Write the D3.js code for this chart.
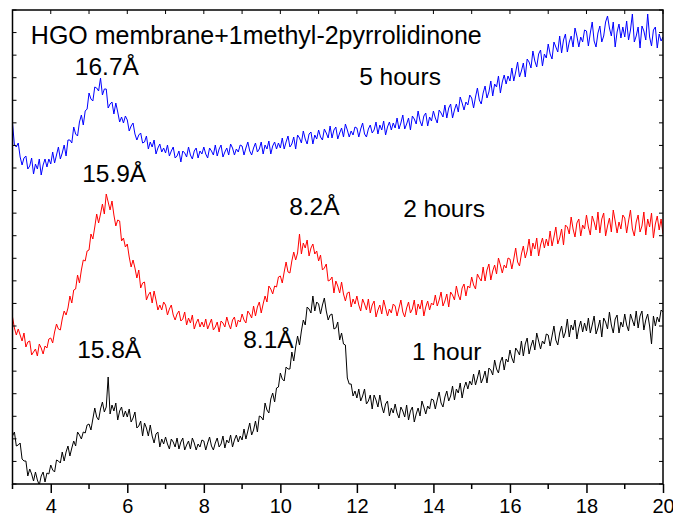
<!DOCTYPE html>
<html>
<head>
<meta charset="utf-8">
<script src="https://cdn.jsdelivr.net/npm/d3@7"></script>
<style>
  body { margin: 0; background: #fff; }
  svg { display: block; font-family: "Liberation Sans", Arial, sans-serif; }
</style>
</head>
<body>
<svg width="673" height="516"></svg>
<script>
// 2-theta grid: 3.00 .. 20.00 deg, step 0.05
const thetaStart = 3;
const thetaStep = 0.05;

// intensity (a.u., offset stacked), one row per degree
const fiveHours = [
  361, 339, 337, 341, 327, 319, 326, 328, 315, 318, 326, 310, 320, 315, 325, 309, 319, 325, 317, 325,
  320, 332, 321, 329, 337, 325, 331, 339, 328, 344, 344, 341, 357, 350, 348, 362, 369, 359, 373, 375,
  391, 385, 383, 397, 396, 393, 406, 389, 395, 395, 376, 380, 382, 370, 381, 372, 362, 367, 361, 368,
  364, 353, 358, 361, 350, 344, 349, 351, 341, 342, 348, 335, 342, 337, 344, 330, 336, 340, 332, 336,
  331, 339, 328, 333, 337, 326, 328, 333, 322, 333, 331, 327, 337, 329, 325, 333, 336, 326, 333, 330,
  337, 330, 326, 336, 333, 329, 339, 328, 335, 339, 327, 332, 336, 329, 340, 336, 329, 335, 332, 339,
  338, 329, 336, 342, 333, 329, 336, 341, 332, 335, 342, 330, 339, 335, 343, 330, 338, 342, 335, 341,
  336, 346, 335, 342, 348, 337, 340, 347, 335, 349, 346, 341, 353, 345, 340, 350, 352, 340, 349, 345,
  354, 347, 344, 355, 351, 346, 358, 346, 354, 357, 345, 351, 356, 347, 360, 354, 347, 353, 349, 357,
  356, 347, 355, 361, 350, 347, 355, 359, 351, 354, 362, 350, 359, 354, 363, 349, 357, 362, 354, 361,
  356, 366, 355, 361, 369, 355, 360, 366, 354, 368, 365, 360, 373, 363, 358, 368, 371, 358, 367, 363,
  373, 366, 361, 374, 371, 367, 379, 366, 376, 380, 366, 374, 380, 372, 387, 381, 374, 382, 379, 389,
  386, 376, 387, 396, 384, 380, 391, 398, 386, 392, 403, 388, 400, 397, 408, 391, 402, 409, 400, 408,
  403, 416, 403, 412, 422, 407, 413, 421, 407, 425, 422, 416, 433, 423, 417, 430, 434, 418, 430, 426,
  440, 430, 425, 442, 437, 432, 448, 431, 444, 450, 432, 442, 448, 437, 456, 448, 437, 447, 442, 454,
  453, 438, 451, 462, 443, 437, 451, 458, 442, 448, 462, 468, 456, 448, 462, 437, 452, 460, 446, 457,
  447, 463, 444, 454, 470, 442, 448, 457, 436, 458, 453, 444, 470, 447, 438, 454, 457, 436, 450, 443,
  447
];

const twoHours = [
  167, 156, 149, 155, 149, 143, 151, 137, 142, 143, 129, 132, 135, 128, 140, 136, 130, 138, 136, 145,
  146, 141, 152, 160, 155, 154, 165, 173, 169, 176, 188, 181, 194, 195, 209, 201, 214, 224, 223, 233,
  234, 250, 245, 257, 270, 261, 270, 280, 270, 290, 282, 274, 283, 269, 258, 264, 263, 243, 246, 237,
  240, 227, 217, 224, 216, 206, 214, 196, 201, 202, 184, 189, 192, 181, 193, 184, 174, 179, 174, 182,
  179, 169, 175, 179, 169, 164, 170, 173, 163, 165, 172, 159, 166, 161, 169, 155, 161, 165, 157, 162,
  157, 165, 155, 160, 165, 154, 157, 162, 152, 163, 161, 157, 167, 160, 155, 164, 167, 157, 164, 162,
  170, 164, 161, 173, 170, 166, 178, 168, 177, 182, 171, 180, 188, 182, 198, 195, 190, 198, 197, 207,
  208, 201, 212, 222, 212, 211, 223, 232, 224, 231, 250, 230, 241, 236, 244, 228, 236, 240, 230, 233,
  223, 229, 214, 216, 220, 203, 204, 207, 191, 203, 198, 191, 202, 190, 183, 191, 192, 177, 185, 180,
  188, 179, 173, 185, 180, 174, 185, 171, 179, 183, 167, 174, 179, 170, 184, 176, 168, 175, 171, 180,
  178, 168, 176, 184, 172, 167, 176, 182, 171, 175, 184, 169, 180, 175, 184, 168, 177, 183, 174, 181,
  179, 189, 178, 184, 192, 178, 183, 190, 177, 192, 189, 184, 198, 189, 184, 196, 200, 188, 198, 196,
  207, 199, 195, 210, 206, 203, 217, 203, 214, 220, 204, 213, 219, 210, 226, 219, 211, 219, 216, 226,
  225, 215, 225, 236, 222, 218, 230, 238, 226, 233, 245, 228, 241, 235, 246, 228, 239, 246, 236, 245,
  238, 253, 238, 247, 257, 240, 246, 255, 239, 259, 257, 250, 267, 255, 247, 261, 265, 248, 259, 255,
  269, 257, 249, 268, 262, 254, 272, 251, 265, 271, 248, 258, 266, 252, 274, 263, 251, 262, 255, 269,
  266, 251, 263, 274, 255, 248, 262, 269, 252, 258, 272, 249, 265, 257, 271, 246, 260, 268, 254, 265,
  250
];

const oneHour = [
  48, 52, 38, 39, 41, 25, 23, 23, 8, 15, 10, 3, 12, 4, -1, 8, 12, 2, 11, 10,
  19, 14, 12, 24, 23, 21, 32, 23, 32, 38, 28, 36, 43, 38, 52, 49, 45, 52, 51, 59,
  60, 54, 65, 76, 67, 64, 75, 82, 72, 77, 107, 70, 79, 73, 81, 64, 73, 77, 67, 73,
  67, 75, 62, 66, 72, 56, 58, 63, 48, 61, 56, 48, 59, 48, 41, 50, 52, 37, 45, 40,
  47, 40, 35, 45, 42, 37, 46, 35, 42, 46, 34, 39, 43, 35, 46, 41, 34, 40, 37, 44,
  43, 34, 41, 47, 38, 34, 41, 46, 37, 40, 48, 36, 44, 41, 49, 37, 44, 49, 42, 48,
  44, 55, 45, 53, 61, 49, 54, 63, 52, 68, 67, 64, 81, 74, 71, 85, 91, 82, 96, 97,
  111, 105, 103, 117, 115, 115, 132, 123, 137, 148, 139, 153, 164, 159, 177, 175, 171, 188, 173, 182,
  180, 170, 179, 186, 173, 164, 169, 170, 155, 156, 162, 144, 151, 140, 139, 106, 100, 100, 88, 93,
  86, 95, 83, 88, 95, 80, 83, 89, 75, 89, 84, 77, 89, 78, 71, 80, 83, 68, 76, 71,
  80, 71, 66, 77, 73, 67, 79, 64, 73, 77, 62, 70, 76, 68, 83, 77, 70, 78, 75, 85,
  84, 75, 84, 92, 81, 77, 87, 93, 83, 88, 98, 84, 95, 91, 101, 86, 96, 102, 95, 103,
  99, 110, 99, 106, 114, 101, 106, 113, 101, 116, 114, 109, 124, 115, 111, 122, 127, 114, 125, 122,
  134, 126, 121, 136, 133, 129, 143, 128, 140, 146, 130, 138, 144, 134, 151, 143, 135, 143, 140, 150,
  149, 138, 148, 158, 144, 139, 151, 158, 146, 152, 165, 147, 159, 154, 164, 145, 156, 163, 152, 161,
  153, 166, 151, 159, 168, 150, 156, 164, 147, 166, 162, 155, 172, 159, 151, 165, 169, 151, 162, 157,
  170, 159, 153, 170, 164, 158, 173, 156, 168, 173, 154, 164, 170, 158, 140, 168, 158, 167, 162, 174,
  172
];

const xTicks = [4, 6, 8, 10, 12, 14, 16, 18, 20];
const seriesNames = ['1 hour', '2 hours', '5 hours'];
const peakLabels = ['15.8Å', '8.1Å', '15.9Å', '8.2Å', '16.7Å'];
const title = 'HGO membrane+1methyl-2pyrrolidinone';

const svg = d3.select('svg');
const frame = { left: 12.5, right: 663, top: 10, bottom: 484 };

const x = d3.scaleLinear().domain([3, 20]).range([frame.left, frame.right]);
const y = d3.scaleLinear().domain([0, 474]).range([frame.bottom, frame.top]);

svg.append('defs').append('clipPath').attr('id', 'plot')
  .append('rect')
  .attr('x', frame.left).attr('y', frame.top)
  .attr('width', frame.right - frame.left).attr('height', frame.bottom - frame.top);

const line = d3.line()
  .x((d, i) => x(thetaStart + i * thetaStep))
  .y((d) => y(d));

const series = [
  { values: oneHour, color: '#000000' },
  { values: twoHours, color: '#ff0000' },
  { values: fiveHours, color: '#0000ff' },
];

svg.append('g').attr('clip-path', 'url(#plot)')
  .selectAll('path')
  .data(series)
  .enter()
  .append('path')
  .attr('d', (d) => line(d.values))
  .attr('fill', 'none')
  .attr('stroke', (d) => d.color)
  .attr('stroke-width', 1)
  .attr('stroke-linejoin', 'round');

// bottom axis: labelled even ticks, short odd ticks
const xMinor = d3.range(3, 20, 1).filter((v) => v % 2 === 1);
const xAxis = svg.append('g').attr('transform', `translate(0,${frame.bottom})`);
xAxis.call(d3.axisBottom(x).tickValues(xTicks).tickSize(9).tickPadding(6))
  .call((g) => g.select('.domain').remove());
xAxis.selectAll('.tick line').attr('stroke-width', 1.5);
xAxis.selectAll('.tick text')
  .attr('font-size', 20)
  .attr('font-family', '"Liberation Sans", Arial, sans-serif')
  .attr('fill', '#000');
xAxis.selectAll('line.minor')
  .data(xMinor)
  .enter()
  .append('line')
  .attr('class', 'minor')
  .attr('x1', (d) => x(d)).attr('x2', (d) => x(d))
  .attr('y1', 0).attr('y2', 5)
  .attr('stroke', '#000').attr('stroke-width', 1.5);

// frame ticks pointing inward
const yTickVals = d3.range(22).map((i) => (i * 474) / 21);
svg.append('g')
  .selectAll('line')
  .data(yTickVals)
  .enter()
  .append('line')
  .attr('x1', frame.left).attr('x2', frame.left + 4)
  .attr('y1', (d) => y(d)).attr('y2', (d) => y(d))
  .attr('stroke', '#000').attr('stroke-width', 1);
svg.append('g')
  .selectAll('line')
  .data(yTickVals)
  .enter()
  .append('line')
  .attr('x1', frame.right).attr('x2', frame.right - 4)
  .attr('y1', (d) => y(d)).attr('y2', (d) => y(d))
  .attr('stroke', '#000').attr('stroke-width', 1);
svg.append('g')
  .selectAll('line')
  .data(d3.range(3, 21, 1))
  .enter()
  .append('line')
  .attr('x1', (d) => x(d)).attr('x2', (d) => x(d))
  .attr('y1', frame.top).attr('y2', frame.top + 4)
  .attr('stroke', '#000').attr('stroke-width', 1);

svg.append('rect')
  .attr('x', frame.left).attr('y', frame.top)
  .attr('width', frame.right - frame.left).attr('height', frame.bottom - frame.top)
  .attr('fill', 'none')
  .attr('stroke', '#000')
  .attr('stroke-width', 1.5);

// annotations, placed in data coordinates
const note = (text, tx, ty, size) =>
  svg.append('text')
    .attr('x', x(tx)).attr('y', y(ty))
    .attr('font-size', size)
    .attr('fill', '#000')
    .text(text);

note(title, 3.48, 440, 25);
note(peakLabels[4], 4.63, 409, 24.5);
note(seriesNames[2], 12.06, 399, 24.5);
note(peakLabels[2], 4.82, 302, 24.5);
note(peakLabels[3], 10.23, 269, 24.5);
note(seriesNames[1], 13.21, 267, 24.5);
note(peakLabels[0], 4.69, 126, 24.5);
note(peakLabels[1], 9.03, 136, 24.5);
note(seriesNames[0], 13.44, 124, 24.5);
</script>
</body>
</html>
